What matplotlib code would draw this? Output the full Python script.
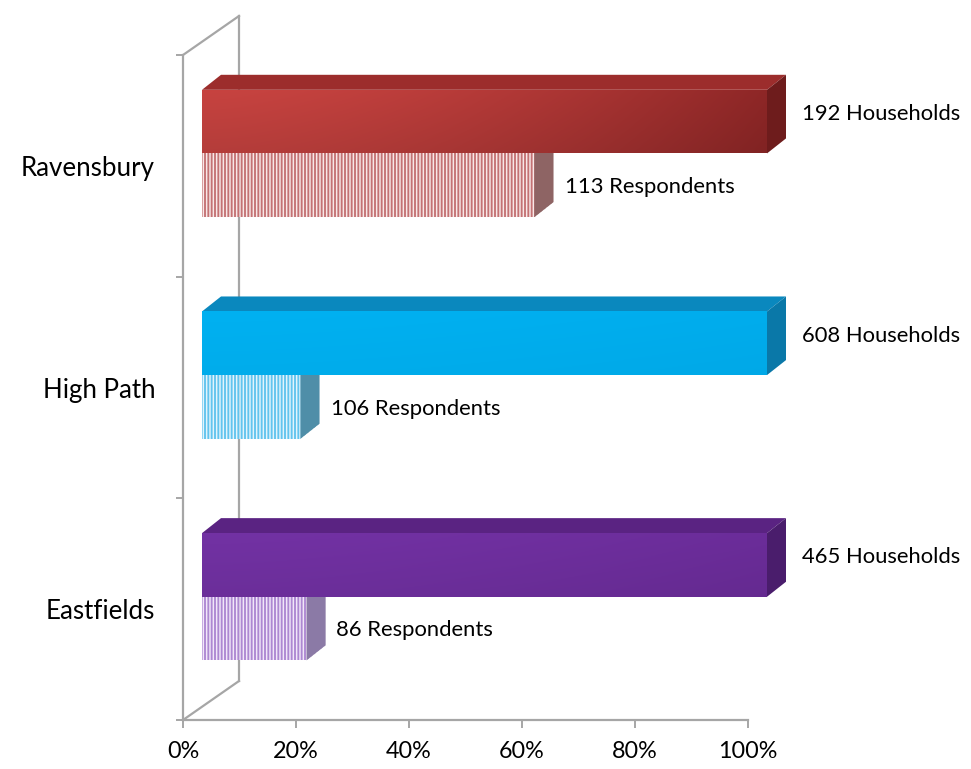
import numpy as np
import matplotlib
matplotlib.use("Agg")
import matplotlib.pyplot as plt
from matplotlib.patches import Polygon
from matplotlib.colors import to_rgb

plt.rcParams['font.family'] = ['Lato', 'DejaVu Sans']
plt.rcParams['hatch.linewidth'] = 1.35

# Estates, bottom to top
estates = ["Eastfields", "High Path", "Ravensbury"]
households = [465, 608, 192]
respondents = [86, 106, 113]
xticks = [0, 20, 40, 60, 80, 100]

front_colors = ["#7131a2", "#00b0f0", "#c4423f"]
front_dark = ["#6a2c98", "#00acec", "#8c2626"]
vert_shade = [0.05, 0.02, 0.08]
top_colors = ["#5a2382", "#0a88be", "#9c2d2c"]
side_colors = ["#4a1d6c", "#0a78a8", "#6e1c1c"]
stripe_colors = ["#ad88d2", "#62c4ee", "#c47274"]
stripe_bg = ["#efe4f8", "#ddf3fc", "#f7e4e4"]
rside_colors = ["#8b7aa6", "#4f8ea8", "#8e6464"]

fig = plt.figure(figsize=(9.71, 7.69), dpi=100)
W, H_PX = 971, 769
ax = fig.add_axes([183 / W, (H_PX - 720) / H_PX, (748 - 183) / W, (720 - 55) / H_PX])
ax.set_xlim(0, 100)
ax.set_ylim(0, 3)

px_x = 100 / 565.0      # data units per pixel, x
px_y = 3 / 665.0        # data units per pixel, y

grey = "#a6a6a6"
# side wall of the 3-D frame
WX, WY = 56 * px_x, 39 * px_y
ax.plot([WX, WX], [WY, 3 + WY], color=grey, lw=1.6, clip_on=False, zorder=1)
ax.plot([0, WX], [0, WY], color=grey, lw=1.6, clip_on=False, zorder=1)
ax.plot([0, WX], [3, 3 + WY], color=grey, lw=1.6, clip_on=False, zorder=1)

X0 = 19 * px_x          # front face offset from the wall
DX, DY = 19 * px_x, 15 * px_y
BH = 0.287              # bar thickness
YB = 0.556              # boundary between the pair inside each band


def poly(pts, **kw):
    p = Polygon(pts, closed=True, clip_on=False, **kw)
    ax.add_patch(p)
    return p


for i, name in enumerate(estates):
    yb = i + YB
    hv = 100.0
    rv = respondents[i] / households[i] * 100.0

    # respondents bar (striped, light gaps let the wall show faintly)
    x1 = X0 + rv
    poly([(X0, yb - BH), (x1, yb - BH), (x1, yb), (X0, yb)],
         facecolor=to_rgb(stripe_bg[i]) + (0.85,), edgecolor=stripe_colors[i],
         hatch="|||||", lw=0, zorder=3)
    poly([(x1, yb - BH), (x1 + DX, yb - BH + DY), (x1 + DX, yb + DY), (x1, yb)],
         facecolor=rside_colors[i], edgecolor=to_rgb(rside_colors[i]) + (0.6,),
         hatch="|||||", lw=0, zorder=3)

    # households bar (solid, shaded)
    x2 = X0 + hv
    front = poly([(X0, yb), (x2, yb), (x2, yb + BH), (X0, yb + BH)],
                 facecolor=front_colors[i], lw=0, zorder=4)
    c0 = np.array(to_rgb(front_colors[i]))
    c1 = np.array(to_rgb(front_dark[i]))
    t = np.linspace(0, 1, 256) ** 1.6
    horiz = c0[None, :] * (1 - t[:, None]) + c1[None, :] * t[:, None]
    v = np.linspace(0, 1, 32)
    vert = 1 - vert_shade[i] + vert_shade[i] * 1.2 * v
    grad = np.clip(vert[:, None, None] * horiz[None, :, :], 0, 1)
    im = ax.imshow(grad, extent=(X0, x2, yb, yb + BH), origin="lower",
                   aspect="auto", zorder=4.1, interpolation="bilinear")
    im.set_clip_path(front)
    im.set_clip_box(fig.bbox)
    poly([(X0, yb + BH), (x2, yb + BH), (x2 + DX, yb + BH + DY), (X0 + DX, yb + BH + DY)],
         facecolor=top_colors[i], lw=0, zorder=4)
    poly([(x2, yb), (x2 + DX, yb + DY), (x2 + DX, yb + BH + DY), (x2, yb + BH)],
         facecolor=side_colors[i], lw=0, zorder=4)

    ax.text(x2 + DX + 16 * px_x, yb + BH / 2 + DY * 0.5, f"{households[i]} Households",
            fontsize=15.8, va="center", ha="left", clip_on=False)
    ax.text(x1 + DX + 11 * px_x, yb - BH / 2 - 0.008, f"{respondents[i]} Respondents",
            fontsize=15.8, va="center", ha="left", clip_on=False)
    ax.text(-28 * px_x, i + 0.5 - 0.012, name, fontsize=18.6, va="center", ha="right",
            clip_on=False)

ax.set_xlim(0, 100)
ax.set_ylim(0, 3)
for s in ["top", "right"]:
    ax.spines[s].set_visible(False)
for s in ["left", "bottom"]:
    ax.spines[s].set_color(grey)
    ax.spines[s].set_linewidth(1.6)
ax.set_xticks(xticks)
ax.set_xticklabels([f"{v}%" for v in xticks], fontsize=16.8)
ax.set_yticks([0, 1, 2, 3])
ax.set_yticklabels([])
ax.tick_params(axis="x", length=6, width=1.4, color=grey, pad=9)
ax.tick_params(axis="y", length=5, width=1.4, color=grey)
ax.patch.set_alpha(0)

fig.savefig("out.png", dpi=100)
